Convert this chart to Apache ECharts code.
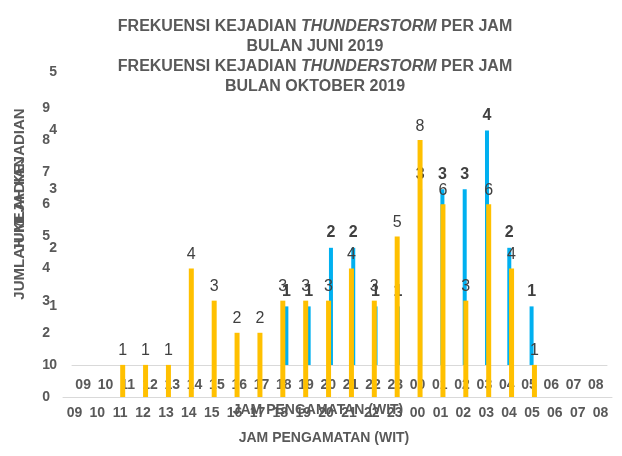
<!DOCTYPE html>
<html>
<head>
<meta charset="utf-8">
<script src="https://cdn.jsdelivr.net/npm/echarts@6/dist/echarts.min.js"></script>
<style>
html,body{margin:0;padding:0;background:#fff;}
#c{width:622px;height:456px;}
</style>
</head>
<body>
<div id="c"></div>
<script>
var hours = ['09','10','11','12','13','14','15','16','17','18','19','20','21','22','23','00','01','02','03','04','05','06','07','08'];
var juni = [null,null,null,null,null,null,null,null,null,1,1,2,2,1,1,3,3,3,4,2,1,null,null,null];
var oktober = [null,null,1,1,1,4,3,2,2,3,3,3,4,3,5,8,6,3,6,4,1,null,null,null];
var juniTicks = [0,1,2,3,4,5];
var oktoberTicks = [0,1,2,3,4,5,6,7,8,9];

var FONT = '"Liberation Sans", Arial, sans-serif';
var GRAY = '#595959';

function titleText(month){
  return '{b|FREKUENSI KEJADIAN }{i|THUNDERSTORM}{b| PER JAM}\n{b|BULAN ' + month + ' 2019}';
}
var titleRich = {
  b:{fontFamily:FONT,fontSize:16,fontWeight:'bold',color:GRAY,lineHeight:20},
  i:{fontFamily:FONT,fontSize:16,fontWeight:'bold',fontStyle:'italic',color:GRAY,lineHeight:20}
};

var chart = echarts.init(document.getElementById('c'));
chart.setOption({
  animation:false,
  backgroundColor:'#fff',
  title:[
    {text:titleText('JUNI'),left:310,top:12,textAlign:'center',textStyle:{rich:titleRich}},
    {text:titleText('OKTOBER'),left:310,top:52,textAlign:'center',textStyle:{rich:titleRich}}
  ],
  grid:[
    {left:72,right:15,top:72,bottom:91},
    {left:63,right:10,top:108,bottom:59}
  ],
  xAxis:[
    {type:'category',gridIndex:0,data:hours,
      axisLine:{lineStyle:{color:'#d9d9d9'}},axisTick:{show:false},
      axisLabel:{interval:0,margin:13,color:GRAY,fontFamily:FONT,fontSize:14,fontWeight:'bold'}},
    {type:'category',gridIndex:1,data:hours,
      axisLine:{lineStyle:{color:'#d9d9d9'}},axisTick:{show:false},
      axisLabel:{interval:0,margin:9,color:GRAY,fontFamily:FONT,fontSize:14,fontWeight:'bold'}}
  ],
  yAxis:[
    {type:'value',gridIndex:0,min:juniTicks[0],max:juniTicks[juniTicks.length-1],interval:1,
      axisLine:{show:false},axisTick:{show:false},splitLine:{show:false},
      axisLabel:{margin:15,color:GRAY,fontFamily:FONT,fontSize:14,fontWeight:'bold'}},
    {type:'value',gridIndex:1,min:oktoberTicks[0],max:oktoberTicks[oktoberTicks.length-1],interval:1,
      axisLine:{show:false},axisTick:{show:false},splitLine:{show:false},
      axisLabel:{margin:13,color:GRAY,fontFamily:FONT,fontSize:14,fontWeight:'bold'}}
  ],
  graphic:[
    {type:'text',x:20,y:180,rotation:Math.PI/2,style:{text:'JUMLAH KEJADIAN',x:0,y:0,align:'center',verticalAlign:'middle',fill:GRAY,font:'bold 15px '+FONT},z:1},
    {type:'text',x:20,y:228,rotation:Math.PI/2,style:{text:'JUMLAH KEJADIAN',x:0,y:0,align:'center',verticalAlign:'middle',fill:GRAY,font:'bold 15px '+FONT},z:5},
    {type:'text',x:318,y:410,style:{text:'JAM PENGAMATAN (WIT)',align:'center',verticalAlign:'middle',fill:GRAY,font:'bold 14px '+FONT},z:1},
    {type:'text',x:324,y:438,style:{text:'JAM PENGAMATAN (WIT)',align:'center',verticalAlign:'middle',fill:GRAY,font:'bold 14px '+FONT},z:5}
  ],
  series:[
    {type:'bar',name:'pad-juni',xAxisIndex:0,yAxisIndex:0,data:[],barWidth:4,barGap:'30%',z:2},
    {type:'bar',name:'Juni',xAxisIndex:0,yAxisIndex:0,data:juni,barWidth:4,barGap:'30%',z:2,
      itemStyle:{color:'#00B0F0'},
      label:{show:true,position:'top',distance:7,color:'#404040',fontFamily:FONT,fontSize:16,fontWeight:'bold'}},
    {type:'bar',name:'pad-okt',xAxisIndex:1,yAxisIndex:1,data:[],barWidth:5,barGap:'0%',z:3},
    {type:'bar',name:'Oktober',xAxisIndex:1,yAxisIndex:1,data:oktober,barWidth:5,barGap:'0%',z:3,
      itemStyle:{color:'#FFC000'},
      label:{show:true,position:'top',distance:6,color:'#404040',fontFamily:FONT,fontSize:16}}
  ]
});
</script>
</body>
</html>
